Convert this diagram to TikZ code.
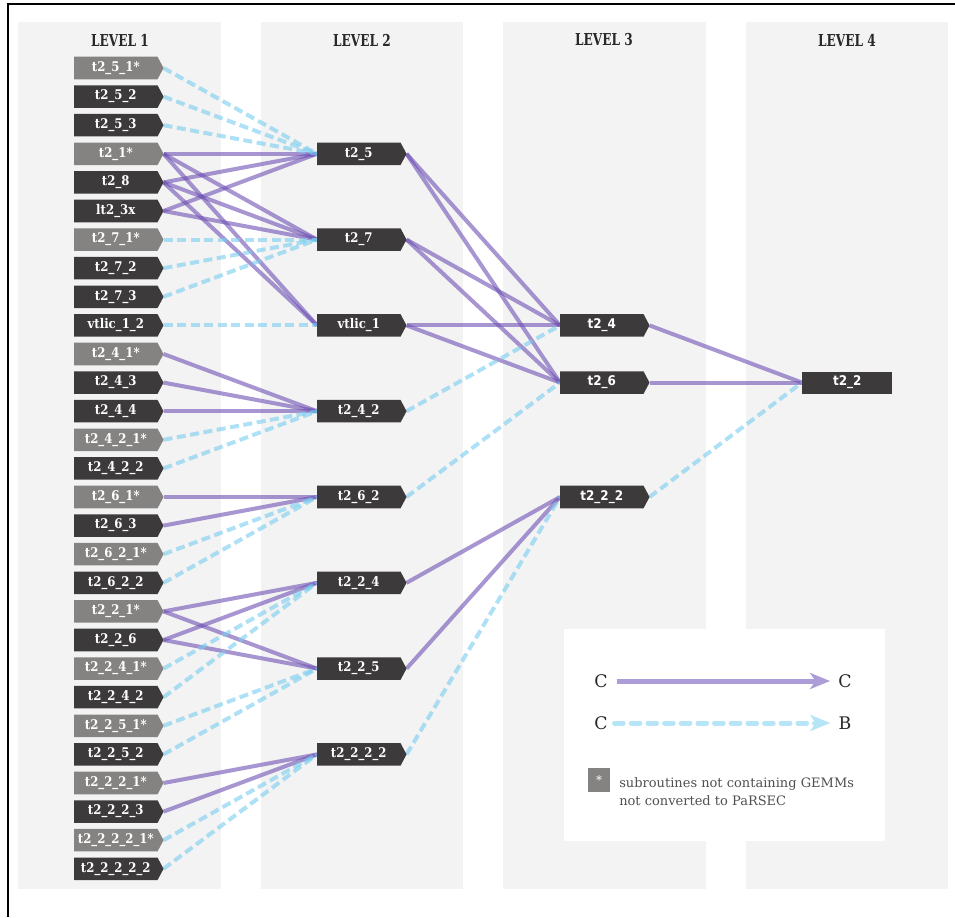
\documentclass[tikz,border=0pt]{standalone}
\usepackage{fontspec}
\setmainfont{DejaVu Serif}
\newfontfamily\sansf[FakeStretch=0.9]{DejaVu Sans}
\newfontfamily\labf[FakeStretch=0.88]{DejaVu Serif}
\newfontfamily\headf[FakeStretch=0.74]{DejaVu Serif}
\usetikzlibrary{arrows.meta}
\definecolor{colbg}{RGB}{243,243,243}
\definecolor{darkn}{RGB}{61,58,59}
\definecolor{grayn}{RGB}{132,131,130}
\definecolor{purp}{RGB}{110,80,180}
\definecolor{skyb}{RGB}{120,205,240}
\definecolor{legp}{RGB}{172,157,216}
\definecolor{legb}{RGB}{183,229,248}
\definecolor{headc}{RGB}{40,40,40}
\definecolor{legt}{RGB}{80,80,80}
\pgfdeclarelayer{bglayer}
\pgfdeclarelayer{edgelayer}
\pgfdeclarelayer{nodelayer}
\pgfsetlayers{bglayer,edgelayer,nodelayer,main}
\tikzset{
  colbox/.style={fill=colbg, draw=none},
  tbody/.style={rectangle, inner sep=0pt, minimum width=62.25pt, minimum height=16.5pt,
    text=white, font=\labf\bfseries\fontsize{10pt}{12pt}\selectfont},
  sanslab/.style={font=\sansf\bfseries\fontsize{10pt}{12pt}\selectfont},
  cc/.style={draw=purp, draw opacity=0.6, line width=3pt},
  cb/.style={draw=skyb, draw opacity=0.6, line width=3pt, dash pattern=on 6.75pt off 3.4pt},
  head/.style={font=\headf\bfseries\fontsize{12.3pt}{14pt}\selectfont, text=headc},
  legletter/.style={inner sep=0pt, font=\fontsize{13pt}{15pt}\selectfont, text=headc},
  legtext/.style={inner sep=0pt, anchor=base west, font=\fontsize{9.75pt}{12pt}\selectfont, text=legt},
}
\newcommand\tnode[5][]{%
  \node[tbody, anchor=west, #1] (#2) at #4 {#5};
  \begin{pgfonlayer}{nodelayer}
  \fill[#3] (#2.north west) -- (#2.north east) -- ([xshift=4.5pt]#2.east)
     -- (#2.south east) -- (#2.south west) -- cycle;
  \end{pgfonlayer}
  \coordinate (#2-t) at ([xshift=4.5pt]#2.east);
}
\begin{document}
\begin{tikzpicture}[x=0.75pt,y=-0.75pt]
\useasboundingbox (0,0) rectangle (955,917);
\begin{pgfonlayer}{bglayer}
  \fill[colbox] (18,22) rectangle (221,889);
  \fill[colbox] (261,22) rectangle (463,889);
  \fill[colbox] (503,22) rectangle (706,889);
  \fill[colbox] (746,22) rectangle (948,889);
  \fill[white] (564,629) rectangle (885,841);
  \draw[line width=1.5pt, black] (955,4) -- (8,4) -- (8,917);
\end{pgfonlayer}

\node[head] (h1) at (120,40) {LEVEL 1};
\node[head] (h2) at (362,40) {LEVEL 2};
\node[head] (h3) at (604,40) {LEVEL 3};
\node[head] (h4) at (847,40) {LEVEL 4};

% level 1
\foreach \lab/\c [count=\i from 0] in {
  t2\_5\_1*/grayn, t2\_5\_2/darkn, t2\_5\_3/darkn, t2\_1*/grayn, t2\_8/darkn,
  lt2\_3x/darkn, t2\_7\_1*/grayn, t2\_7\_2/darkn, t2\_7\_3/darkn, vtlic\_1\_2/darkn,
  t2\_4\_1*/grayn, t2\_4\_3/darkn, t2\_4\_4/darkn, t2\_4\_2\_1*/grayn, t2\_4\_2\_2/darkn,
  t2\_6\_1*/grayn, t2\_6\_3/darkn, t2\_6\_2\_1*/grayn, t2\_6\_2\_2/darkn,
  t2\_2\_1*/grayn, t2\_2\_6/darkn, t2\_2\_4\_1*/grayn, t2\_2\_4\_2/darkn,
  t2\_2\_5\_1*/grayn, t2\_2\_5\_2/darkn, t2\_2\_2\_1*/grayn, t2\_2\_2\_3/darkn,
  t2\_2\_2\_2\_1*/grayn, t2\_2\_2\_2\_2/darkn} {
  \tnode{a\i}{\c}{(74,{68+28.6*\i})}{\lab}
}

% level 2
\foreach \lab/\i in {t2\_5/3, t2\_7/6, vtlic\_1/9, t2\_4\_2/12, t2\_6\_2/15,
  t2\_2\_4/18, t2\_2\_5/21, t2\_2\_2\_2/24} {
  \tnode{b\i}{darkn}{(317,{68+28.6*\i})}{\lab}
}

% level 3
\foreach \lab/\i in {t2\_4/9, t2\_6/11, t2\_2\_2/15} {
  \tnode[sanslab]{c\i}{darkn}{(560,{68+28.6*\i})}{\lab}
}

% level 4
\node[tbody, sanslab, fill=darkn, anchor=west, minimum width=67.5pt] (d11) at (802,{68+28.6*11}) {t2\_2};

\begin{pgfonlayer}{edgelayer}
\foreach \s/\t in {a3/b3, a4/b3, a5/b3, a3/b6, a4/b6, a5/b6, a3/b9, a4/b9,
  a10/b12, a11/b12, a12/b12, a15/b15, a16/b15, a19/b18, a20/b18, a19/b21, a20/b21,
  a25/b24, a26/b24, b3/c9, b3/c11, b6/c9, b6/c11, b9/c9, b9/c11, b18/c15, b21/c15,
  c9/d11, c11/d11}
  \draw[cc] (\s-t) -- (\t.west);
\foreach \s/\t in {a0/b3, a1/b3, a2/b3, a6/b6, a7/b6, a8/b6, a9/b9, a13/b12, a14/b12,
  a17/b15, a18/b15, a21/b18, a22/b18, a23/b21, a24/b21, a27/b24, a28/b24,
  b12/c9, b15/c11, b24/c15, c15/d11}
  \draw[cb] (\s-t) -- (\t.west);
\end{pgfonlayer}

% legend
\node[legletter] (lc1) at (601,681) {C};
\node[legletter] (lc2) at (845,681) {C};
\node[legletter] (lc3) at (601,723) {C};
\node[legletter] (lb) at (845,723) {B};
\draw[legp, line width=3.75pt, -{Stealth[length=15pt, width=12pt, inset=4pt]}]
  ([xshift=6.5pt]lc1.east) -- ([xshift=-6pt]lc2.west);
\draw[legb, line width=3.75pt, line cap=round, dash pattern=on 6.5pt off 6pt,
  -{Stealth[length=15pt, width=12pt, inset=4pt]}]
  ([xshift=5pt]lc3.east) -- ([xshift=-6pt]lb.west);
\node[fill=grayn, inner sep=0pt, minimum width=16.5pt, minimum height=18pt, text=white,
  font=\fontsize{9pt}{10pt}\selectfont] (star) at (599,780) {*};
\node[legtext] (lt1) at (619,787) {subroutines not containing GEMMs};
\node[legtext] (lt2) at (619,805) {not converted to PaRSEC};
\end{tikzpicture}
\end{document}
